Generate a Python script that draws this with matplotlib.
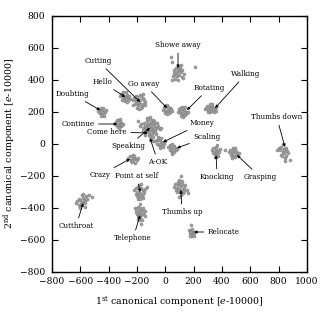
import matplotlib
matplotlib.use("Agg")
import matplotlib.pyplot as plt

plt.rcParams['font.family'] = ['DejaVu Serif']
plt.rcParams['mathtext.fontset'] = 'dejavuserif'

# gesture clusters (1st, 2nd canonical component)
showe_away_x = [40, 47, 210, 60, 75, 90, 105, 120, 65, 80, 95, 110, 130, 55, 85, 100, 115, 70, 92, 125, 50, 88, 108, 78]
showe_away_y = [542, 510, 479, 460, 470, 465, 475, 458, 440, 448, 452, 445, 438, 425, 420, 430, 415, 405, 400, 410, 395, 485, 490, 432]
go_away_x = [-10, 0, 10, 20, 30, 40, 5, 15, 25, 35, -5, 12, 28, 18, 45, -15]
go_away_y = [225, 235, 240, 230, 220, 215, 205, 200, 210, 195, 190, 185, 190, 220, 205, 210]
rotating_x = [95, 105, 115, 125, 135, 145, 100, 110, 120, 130, 140, 150, 118, 128, 108, 138, 160, 90]
rotating_y = [215, 225, 230, 220, 210, 200, 195, 190, 205, 185, 180, 190, 170, 165, 175, 232, 200, 200]
walking_x = [280, 290, 300, 310, 320, 330, 340, 350, 360, 305, 315, 325, 335, 345, 295, 355, 330, 318]
walking_y = [215, 225, 210, 230, 220, 235, 225, 215, 205, 200, 195, 205, 210, 195, 235, 230, 250, 245]
hello_x = [-320, -310, -300, -290, -280, -270, -260, -250, -305, -295, -285, -275, -265, -290, -270, -255, -300, -280]
hello_y = [300, 310, 285, 295, 320, 305, 290, 280, 270, 275, 265, 285, 270, 300, 260, 300, 320, 280]
cutting_x = [-230, -220, -210, -200, -190, -180, -170, -160, -150, -140, -215, -205, -195, -185, -175, -165, -155, -200, -185, -170, -160, -190, -175, -145, -225]
cutting_y = [270, 285, 300, 290, 280, 305, 295, 285, 270, 260, 250, 265, 240, 255, 245, 230, 250, 220, 215, 225, 310, 260, 270, 240, 240]
doubting_x = [-475, -465, -455, -445, -435, -425, -460, -450, -440, -430, -470, -455, -440, -448, -420]
doubting_y = [205, 215, 225, 210, 200, 195, 190, 180, 185, 175, 195, 170, 220, 200, 210]
continue_x = [-350, -340, -330, -320, -310, -300, -345, -335, -325, -315, -330, -320, -305, -338]
continue_y = [135, 145, 150, 140, 130, 125, 115, 105, 120, 110, 100, 155, 115, 125]
come_here_x = [-180, -170, -160, -150, -140, -130, -120, -110, -100, -90, -80, -70, -60, -50, -40, -155, -145, -135, -125, -115, -105, -95, -85, -75, -65,
               -130, -120, -110, -100, -90, -80, -115, -105, -95, -100, -90, -140, -60, -190, -30, -70, -85,
               -125, -135, -112, -98, -88, -145, -78, -108]
come_here_y = [110, 120, 95, 130, 105, 140, 115, 125, 135, 150, 120, 105, 95, 110, 90, 80, 70, 85, 95, 75, 100, 85, 70, 80, 60,
               160, 155, 165, 145, 130, 140, 55, 45, 60, 30, 40, 55, 130, 140, 100, 70, 15,
               120, 100, 108, 115, 95, 115, 95, 90]
money_x = [-70, -60, -50, -40, -30, -20, -10, -55, -45, -35, -25, -15, -40, -30, -50, -5]
money_y = [15, 25, 20, 30, 10, 5, 0, -5, -10, 0, -15, -20, -25, 35, 40, 15]
scaling_x = [20, 30, 40, 50, 60, 70, 80, 35, 45, 55, 65, 75, 50, 60, 40]
scaling_y = [-20, -10, -25, -5, -15, -30, -35, -40, -50, -45, -55, -40, -65, -20, -30]
crazy_x = [-260, -250, -240, -230, -220, -210, -200, -245, -235, -225, -215, -230, -220, -195]
crazy_y = [-90, -80, -100, -70, -85, -95, -105, -110, -115, -105, -120, -90, -75, -90]
knocking_x = [330, 340, 350, 360, 370, 380, 345, 355, 365, 375, 360, 350, 335, 385, 365]
knocking_y = [-40, -30, -50, -20, -45, -55, -60, -70, -65, -80, -35, -85, -60, -35, -10]
grasping_x = [450, 460, 470, 480, 490, 500, 510, 520, 465, 475, 485, 495, 505, 480, 490, 420, 470]
grasping_y = [-50, -40, -60, -30, -55, -45, -65, -60, -70, -80, -75, -85, -70, -40, -25, -40, -90]
thumbs_down_x = [800, 810, 820, 830, 840, 850, 860, 870, 815, 825, 835, 845, 855, 830, 845, 835, 880, 790]
thumbs_down_y = [-30, -40, -20, -50, -35, -25, -45, -60, -70, -80, -60, -90, -75, -5, -110, -40, -100, -40]
point_self_x = [-220, -210, -200, -190, -180, -170, -160, -150, -140, -205, -195, -185, -175, -165, -155, -190, -175, -160, -185, -170, -200, -130]
point_self_y = [-290, -280, -300, -270, -285, -275, -290, -300, -285, -315, -320, -330, -310, -325, -315, -345, -345, -340, -260, -255, -330, -270]
telephone_x = [-215, -205, -195, -185, -175, -165, -155, -145, -200, -190, -180, -170, -160, -150, -195, -185, -175, -165, -180, -170, -210, -140]
telephone_y = [-400, -410, -395, -420, -405, -415, -400, -420, -440, -450, -435, -445, -440, -430, -470, -480, -465, -475, -380, -500, -430, -455]
cutthroat_x = [-630, -620, -610, -600, -590, -580, -570, -560, -550, -540, -605, -595, -585, -575, -565, -555, -590, -580, -600, -570, -520, -610]
cutthroat_y = [-370, -360, -385, -350, -365, -340, -355, -330, -345, -320, -395, -375, -380, -360, -370, -345, -320, -315, -400, -395, -335, -345]
thumbs_up_x = [60, 70, 80, 90, 100, 110, 120, 130, 140, 150, 75, 85, 95, 105, 115, 125, 135, 90, 100, 110, 120, 100, 110, 160]
thumbs_up_y = [-270, -255, -280, -260, -245, -265, -250, -275, -260, -290, -290, -300, -285, -305, -290, -310, -295, -240, -225, -320, -235, -335, -205, -310]
relocate_x = [170, 180, 190, 200, 175, 185, 195, 205, 180, 190, 200, 175, 185]
relocate_y = [-540, -545, -535, -550, -560, -555, -565, -560, -575, -570, -575, -580, -510]

clusters = [
    (showe_away_x, showe_away_y), (go_away_x, go_away_y), (rotating_x, rotating_y),
    (walking_x, walking_y), (hello_x, hello_y), (cutting_x, cutting_y),
    (doubting_x, doubting_y), (continue_x, continue_y), (come_here_x, come_here_y),
    (money_x, money_y), (scaling_x, scaling_y), (crazy_x, crazy_y),
    (knocking_x, knocking_y), (grasping_x, grasping_y), (thumbs_down_x, thumbs_down_y),
    (point_self_x, point_self_y), (telephone_x, telephone_y), (cutthroat_x, cutthroat_y),
    (thumbs_up_x, thumbs_up_y), (relocate_x, relocate_y),
]

# label, text position, arrow target
labels = [
    ("Showe away", (90, 617), (90, 473)),
    ("Walking", (570, 435), (352, 223)),
    ("Rotating", (310, 348), (153, 210)),
    ("Go away", (-150, 373), (12, 223)),
    ("Cutting", (-475, 517), (-178, 260)),
    ("Hello", (-447, 385), (-283, 292)),
    ("Doubting", (-658, 310), (-460, 210)),
    ("Continue", (-617, 123), (-340, 123)),
    ("Come here", (-412, 73), (-122, 67)),
    ("Speaking", (-262, -14), (-108, 98)),
    ("A-OK", (-51, -116), (-108, 35)),
    ("Money", (260, 128), (-16, 10)),
    ("Scaling", (295, 42), (83, -27)),
    ("Crazy", (-460, -196), (-249, -96)),
    ("Point at self", (-200, -202), (-178, -303)),
    ("Telephone", (-227, -590), (-178, -447)),
    ("Cutthroat", (-630, -515), (-580, -372)),
    ("Thumbs up", (118, -428), (110, -290)),
    ("Relocate", (415, -552), (203, -552)),
    ("Knocking", (366, -208), (359, -72)),
    ("Grasping", (670, -208), (507, -71)),
    ("Thumbs down", (787, 166), (845, -21)),
]

fig = plt.figure(figsize=(3.2, 3.2), dpi=100)
ax = fig.add_axes([0.1625, 0.151, 0.7965, 0.8])

for xs, ys in clusters:
    ax.scatter(xs, ys, s=5, c='#a0a0a0', edgecolors='#777777', linewidths=0.3, zorder=2)

for name, txt, tgt in labels:
    ax.annotate(name, xy=tgt, xytext=txt, ha='center', va='center', fontsize=5.2,
                arrowprops=dict(arrowstyle='-|>', color='k', lw=0.6, mutation_scale=4,
                                shrinkA=1, shrinkB=0), zorder=3)

ax.set_xlim(-800, 1000)
ax.set_ylim(-800, 800)
ax.set_xticks(range(-800, 1001, 200))
ax.set_yticks(range(-800, 801, 200))
ax.tick_params(direction='in', length=4, width=0.8, top=True, right=True, labelsize=6.6)
ax.tick_params(axis='y', pad=5)
ax.tick_params(axis='x', pad=4)
for sp in ax.spines.values():
    sp.set_linewidth(1.0)

ax.set_xlabel(r'1$^{\mathrm{st}}$ canonical component [$e$-10000]', fontsize=6.8, labelpad=6)
ax.set_ylabel(r'2$^{\mathrm{nd}}$ canonical component [$e$-10000]', fontsize=6.8, labelpad=1)

fig.savefig('out.png', dpi=100)
